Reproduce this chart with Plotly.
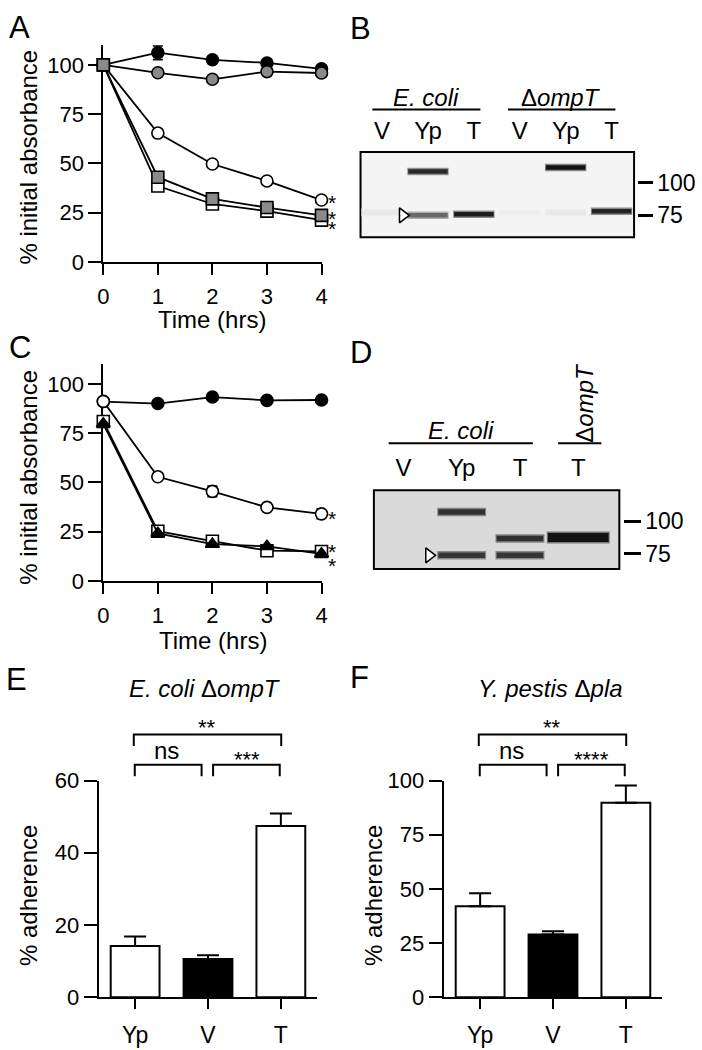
import math
import plotly.graph_objects as go

W, H = 702, 1050
FONT = "Liberation Sans, Arial, sans-serif"

# ---------------- data ----------------
time_hrs = [0, 1, 2, 3, 4]

# Panel A
A_black_circle = [100, 106.2, 102.6, 101.0, 98.0]
A_black_circle_err = [0, 3.5, 0, 0, 0]
A_grey_circle = [100, 96.0, 92.7, 96.6, 95.9]
A_white_circle = [100, 65.4, 49.7, 41.1, 31.4]
A_grey_square = [100, 43.0, 32.0, 27.6, 23.6]
A_white_square = [100, 38.5, 29.4, 25.8, 21.2]
A_sig_values = [32.7, 24.8, 19.3]

# Panel C
C_black_circle = [91.0, 90.0, 93.3, 91.6, 91.8]
C_white_circle = [91.1, 52.8, 45.4, 37.3, 34.0]
C_white_circle_err = [0, 0, 2.6, 0, 2.5]
C_white_square = [80.9, 25.2, 20.1, 15.3, 14.9]
C_black_triangle = [79.7, 24.1, 18.6, 17.5, 13.7]
C_sig_values = [34.0, 17.2, 10.3]

abs_ticks = [0, 25, 50, 75, 100]

# Panel B (western blot): lanes, bands (apparent kDa) and intensities
B_lanes = ["V", "Yp", "T", "V", "Yp", "T"]
B_band_lane = [0, 1, 1, 2, 3, 4, 4, 5]
B_band_kda = [77, 110.6, 75, 75.7, 77, 114.5, 77, 77.8]
B_band_intensity = [0.05, 0.9, 0.62, 0.95, 0.03, 1.0, 0.05, 0.92]
B_arrow_kda = 75

# Panel D (western blot)
D_lanes = ["V", "Yp", "T", "T"]
D_band_lane = [1, 1, 2, 2, 3]
D_band_kda = [108.7, 74, 85.9, 74, 86.6]
D_band_intensity = [0.85, 0.82, 0.85, 0.82, 1.0]
D_arrow_kda = 74

mw_markers = [100, 75]

# Panels E / F
bar_groups = ["Yp", "V", "T"]
E_mean = [14.2, 10.6, 47.4]
E_sem = [2.6, 1.0, 3.5]
F_mean = [42.0, 29.0, 89.8]
F_sem = [6.0, 1.5, 7.9]
E_ticks = [0, 20, 40, 60]
F_ticks = [0, 25, 50, 75, 100]


# ---------------- helpers ----------------
def px(x):
    return x / W


def py(y):
    return 1 - y / H


fig = go.Figure()
annotations = []
shapes = []


def ann(text, x, y, size, **kw):
    d = dict(text=text, x=px(x), y=py(y), xref="paper", yref="paper",
             showarrow=False, font=dict(family=FONT, size=size, color="black"),
             xanchor="center", yanchor="middle")
    d.update(kw)
    annotations.append(d)


def hline(x0, x1, y, w=2):
    shapes.append(dict(type="line", xref="paper", yref="paper", x0=px(x0), x1=px(x1),
                       y0=py(y), y1=py(y), line=dict(color="black", width=w)))


def bracket(x0, x1, ytop, ybot, w=2):
    shapes.append(dict(type="path", xref="paper", yref="paper",
                       path=f"M {px(x0)},{py(ybot)} L {px(x0)},{py(ytop)} L {px(x1)},{py(ytop)} L {px(x1)},{py(ybot)}",
                       line=dict(color="black", width=w)))


def line_series(xa, ya, y, symbol, fill, err=None):
    tr = go.Scatter(x=time_hrs, y=y, mode="lines+markers", xaxis=xa, yaxis=ya,
                    cliponaxis=False, showlegend=False, hoverinfo="skip",
                    line=dict(color="black", width=1.8),
                    marker=dict(symbol=symbol, size=12, color=fill,
                                line=dict(color="black", width=1.6)))
    if err is not None:
        tr.error_y = dict(type="data", array=err, visible=True, color="black",
                          thickness=1.8, width=5)
    fig.add_trace(tr)


GREY = "#8a8a8a"

# ---------------- Panel A ----------------
line_series("x", "y", A_black_circle, "circle", "black", A_black_circle_err)
line_series("x", "y", A_grey_circle, "circle", GREY)
line_series("x", "y", A_white_circle, "circle", "white")
line_series("x", "y", A_white_square, "square", "white")
line_series("x", "y", A_grey_square, "square", GREY)

# ---------------- Panel C ----------------
line_series("x3", "y3", C_black_circle, "circle", "black")
line_series("x3", "y3", C_white_circle, "circle", "white", C_white_circle_err)
line_series("x3", "y3", C_white_square, "square", "white")
line_series("x3", "y3", C_black_triangle, "triangle-up", "black")

# significance stars in A / C (right of last time point)
for v in A_sig_values:
    annotations.append(dict(text="*", x=1.077, y=v, xref="x domain", yref="y",
                            showarrow=False, yshift=-5,
                            font=dict(family=FONT, size=21, color="black")))
for v in C_sig_values:
    annotations.append(dict(text="*", x=1.077, y=v, xref="x3 domain", yref="y3",
                            showarrow=False, yshift=-5,
                            font=dict(family=FONT, size=21, color="black")))


# ---------------- Blots ----------------
def band_color(intensity, bg):
    lvl = int(round(bg - (bg - 18) * intensity))
    return f"rgb({lvl},{lvl},{lvl})"


def draw_blot(xa, ya, lanes_of_band, kdas, intens, bg, thick, halfw, wide_idx=None,
              wide_half=None, wide_thick=None):
    for i, (ln, kd, it) in enumerate(zip(lanes_of_band, kdas, intens)):
        hw = halfw
        th = thick
        if wide_idx is not None and i == wide_idx:
            hw, th = wide_half, wide_thick
        fig.add_trace(go.Scatter(x=[ln - hw - 0.02, ln + hw + 0.02], y=[kd, kd], mode="lines",
                                 xaxis=xa, yaxis=ya, showlegend=False, hoverinfo="skip",
                                 line=dict(color=band_color(it * 0.5, bg), width=th + 3)))
        fig.add_trace(go.Scatter(x=[ln - hw, ln + hw], y=[kd, kd], mode="lines",
                                 xaxis=xa, yaxis=ya, showlegend=False, hoverinfo="skip",
                                 line=dict(color=band_color(it, bg), width=th)))


draw_blot("x2", "y2", B_band_lane, B_band_kda, B_band_intensity, 244, 4.5, 0.43)
draw_blot("x4", "y4", D_band_lane, D_band_kda, D_band_intensity, 218, 5.5, 0.40,
          wide_idx=4, wide_half=0.52, wide_thick=9)

# arrowheads marking the processed band (next to Yp lane)
fig.add_trace(go.Scatter(x=[B_lanes.index("Yp") - 0.55], y=[B_arrow_kda], mode="markers",
                         xaxis="x2", yaxis="y2", showlegend=False, hoverinfo="skip",
                         marker=dict(symbol="triangle-right", size=13, color="white",
                                     line=dict(color="black", width=1.5))))
fig.add_trace(go.Scatter(x=[D_lanes.index("Yp") - 0.56], y=[D_arrow_kda], mode="markers",
                         xaxis="x4", yaxis="y4", showlegend=False, hoverinfo="skip",
                         marker=dict(symbol="triangle-right", size=13, color="white",
                                     line=dict(color="black", width=1.5))))

shapes.append(dict(type="rect", xref="x2 domain", yref="y2 domain", x0=0, x1=1, y0=0, y1=1,
                   fillcolor="#f4f4f4", line=dict(color="black", width=2), layer="below"))
shapes.append(dict(type="rect", xref="x4 domain", yref="y4 domain", x0=0, x1=1, y0=0, y1=1,
                   fillcolor="#dadada", line=dict(color="black", width=2), layer="below"))

# ---------------- Bars E / F ----------------
for xa, ya, mean, sem in (("x5", "y5", E_mean, E_sem), ("x6", "y6", F_mean, F_sem)):
    fig.add_trace(go.Bar(x=bar_groups, y=mean, xaxis=xa, yaxis=ya, width=0.67,
                         showlegend=False, hoverinfo="skip",
                         marker=dict(color=["white", "black", "white"],
                                     line=dict(color="black", width=2)),
                         error_y=dict(type="data", symmetric=False, array=sem,
                                      arrayminus=[0] * len(sem), color="black",
                                      thickness=2, width=11)))

# ---------------- axes ----------------
tickfont = dict(family=FONT, size=22, color="black")
common = dict(showgrid=False, zeroline=False, showline=True, linecolor="black", linewidth=2,
              ticks="outside", tickcolor="black", tickwidth=2, tickfont=tickfont)

layout_axes = {}
# A
layout_axes["xaxis"] = dict(common, domain=[px(99), px(321)], range=[0, 4], tickvals=time_hrs,
                            anchor="y", ticklen=11, ticklabelstandoff=3, layer="below traces")
layout_axes["yaxis"] = dict(common, domain=[py(256), py(256 - 110 * 2.018)], range=[0, 110],
                            tickvals=abs_ticks, anchor="x", ticklen=13, layer="below traces")
# C
layout_axes["xaxis3"] = dict(common, domain=[px(99), px(321)], range=[0, 4], tickvals=time_hrs,
                             anchor="y3", ticklen=11, ticklabelstandoff=3, layer="below traces")
layout_axes["yaxis3"] = dict(common, domain=[py(582.7), py(582.7 - 110 * 2.018)], range=[0, 110],
                             tickvals=abs_ticks, anchor="x3", ticklen=13, layer="below traces")

# B blot
blot_x = dict(showgrid=False, zeroline=False, showline=False, ticks="", side="top",
              tickfont=dict(family=FONT, size=24, color="black"))
layout_axes["xaxis2"] = dict(blot_x, domain=[px(360.7), px(639)], range=[-0.469, 5.49],
                             tickvals=list(range(len(B_lanes))), ticktext=B_lanes, anchor="y2",
                             ticklabelstandoff=7)
layout_axes["yaxis2"] = dict(showgrid=False, zeroline=False, showline=False, type="log",
                             domain=[py(230.7), py(143.3)],
                             range=[math.log10(61.8), math.log10(131.6)],
                             anchor="free", position=px(641.5), side="right",
                             tickvals=mw_markers, ticktext=[str(m) for m in mw_markers],
                             ticks="outside", ticklen=15, tickwidth=2.5, tickcolor="black",
                             tickfont=dict(family=FONT, size=23, color="black"))
# D blot
layout_axes["xaxis4"] = dict(blot_x, domain=[px(374.3), px(624)], range=[-0.506, 3.705],
                             tickvals=list(range(len(D_lanes))), ticktext=D_lanes, anchor="y4",
                             ticklabelstandoff=9)
layout_axes["yaxis4"] = dict(showgrid=False, zeroline=False, showline=False, type="log",
                             domain=[py(570.7), py(490)],
                             range=[math.log10(65.5), math.log10(131.6)],
                             anchor="free", position=px(627.3), side="right",
                             tickvals=mw_markers, ticktext=[str(m) for m in mw_markers],
                             ticks="outside", ticklen=17, tickwidth=2.5, tickcolor="black",
                             tickfont=dict(family=FONT, size=23, color="black"))
# E
layout_axes["xaxis5"] = dict(common, domain=[px(94.3), px(316.7)], range=[-0.5, 2.5],
                             anchor="y5", ticklen=10, type="category", ticklabelstandoff=6,
                             tickfont=dict(family=FONT, size=23, color="black"))
layout_axes["yaxis5"] = dict(common, domain=[py(1009.3), py(787.3)], range=[0, 60],
                             tickvals=E_ticks, anchor="x5", ticklen=13)
# F
layout_axes["xaxis6"] = dict(common, domain=[px(445.3), px(667.7)], range=[-0.5, 2.5],
                             anchor="y6", ticklen=10, type="category", ticklabelstandoff=6,
                             tickfont=dict(family=FONT, size=23, color="black"))
layout_axes["yaxis6"] = dict(common, domain=[py(1009.3), py(787.3)], range=[0, 100],
                             tickvals=F_ticks, anchor="x6", ticklen=13)

# ---------------- text decorations ----------------
for letter, x, y in (("A", 13.5, 16), ("B", 360.5, 16.5), ("C", 14, 344),
                     ("D", 361.5, 348.5), ("E", 11, 683.5), ("F", 359.5, 681.5)):
    ann(letter, x, y, 31)

ann("% initial absorbance", 23, 148.5, 24, textangle=-90)
ann("Time (hrs)", 210, 315, 24)
ann("% initial absorbance", 23, 476.5, 24, textangle=-90)
ann("Time (hrs)", 210.5, 643.5, 24)
ann("% adherence", 23, 905, 24, textangle=-90)
ann("% adherence", 374, 905, 24, textangle=-90)

ann("<i>E. coli</i>", 427.3, 87.3, 24)
hline(372.7, 482.7, 100)
ann("Δ<i>ompT</i>", 565, 87.3, 24)
hline(510.7, 620, 100)

ann("<i>E. coli</i>", 463.3, 428.3, 24)
hline(389.3, 536, 441.7)
ann("Δ<i>ompT</i>", 588.3, 400, 24, textangle=-90)
hline(561.7, 605.7, 441.7)

ann("<i>E. coli</i> Δ<i>ompT</i>", 202, 692.5, 24)
ann("<i>Y. pestis</i> Δ<i>pla</i>", 554, 692.5, 24)

for off, big in ((0, "***"), (351, "****")):
    bracket(130 + off, 280 + off, 740, 752)
    bracket(131 + off, 199 + off, 771, 783)
    bracket(210.7 + off, 278.5 + off, 771, 783)
    ann("**", 205 + off, 733, 22)
    ann("ns", 163.5 + off, 757, 24)
    ann(big, 245 + off, 766, 22)

fig.update_layout(
    width=W, height=H, margin=dict(l=0, r=0, t=0, b=0),
    paper_bgcolor="white", plot_bgcolor="rgba(0,0,0,0)",
    font=dict(family=FONT, color="black"),
    annotations=annotations, shapes=shapes, showlegend=False,
    **layout_axes,
)

fig.write_html("out.html", config={"displayModeBar": False},
               post_script="document.body.style.margin='0';")
